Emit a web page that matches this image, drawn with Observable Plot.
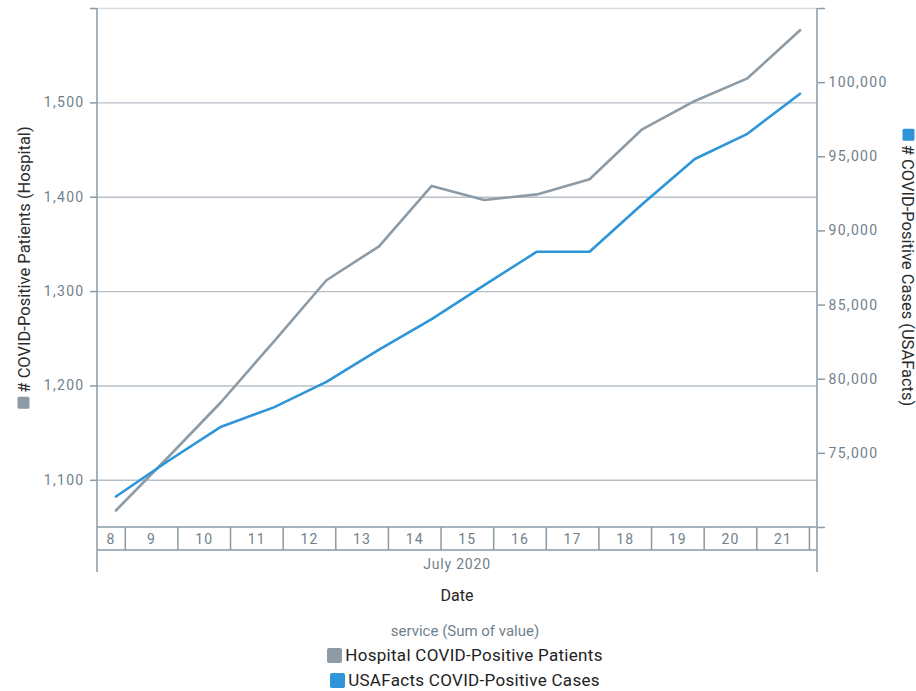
<!DOCTYPE html>
<html>
<head>
<meta charset="utf-8">
<script src="https://cdn.jsdelivr.net/npm/d3@7"></script>
<script src="https://cdn.jsdelivr.net/npm/@observablehq/plot@0.6"></script>
<style>
  body { margin: 0; background: #fff; font-family: Roboto, "Noto Sans", sans-serif; }
  #chart svg { display: block; overflow: visible; }
  #chart svg g[aria-label="y-axis tick label"] text { letter-spacing: 1.3px; }
  #legend { width: 930px; text-align: center; }
  .lg-title { font-size: 15px; line-height: 18px; height: 19px; color: #6f7f8c; margin-top: 10px; }
  .lg-row { font-size: 17px; letter-spacing: 0.3px; line-height: 25px; height: 25px; color: #222; }
  .lg-row:first-of-type { margin-top: 2px; }
  .sw { display: inline-block; width: 15px; height: 15px; border-radius: 2px; vertical-align: -2px; margin-right: 3px; }
</style>
</head>
<body>
<div id="chart"></div>
<div id="legend"></div>
<script>
// ---- data ----
const dates = ["2020-07-08","2020-07-09","2020-07-10","2020-07-11","2020-07-12","2020-07-13","2020-07-14",
               "2020-07-15","2020-07-16","2020-07-17","2020-07-18","2020-07-19","2020-07-20","2020-07-21"];
const hospital = [1068, 1125, 1183, 1247, 1312, 1348, 1412, 1397, 1403, 1419, 1472, 1502, 1526, 1577];
const usafacts = [72090, 74500, 76800, 78100, 79820, 82000, 84050, 86350, 88600, 88600, 91800, 94850, 96550, 99250];
const seriesNames = ["Hospital COVID-Positive Patients", "USAFacts COVID-Positive Cases"];
const seriesColors = ["#8d9ba6", "#2e95d8"];
const leftTicks = [1100, 1200, 1300, 1400, 1500];
const rightTicks = [75000, 80000, 85000, 90000, 95000, 100000];
const leftDomain = [1050, 1600];
const rightDomain = [70000, 105000];
const leftTitle = "# COVID-Positive Patients (Hospital)";
const rightTitle = "# COVID-Positive Cases (USAFacts)";
const monthLabel = "July 2020";
const xTitle = "Date";
const legendTitle = "service (Sum of value)";

// ---- helpers ----
const W = 916, H = 612;
const mTop = 8, mBottom = 85, mLeft = 97, mRight = 99;
const HOUR = 3600 * 1000, DAY = 24 * HOUR;
const toLeft = d3.scaleLinear(rightDomain, leftDomain);
const fmt = d3.format(",");
const axisColor = "#8a9aa6";
const labelColor = "#717f8b";
const pointOffset = 19.5 * HOUR;

const rows = [];
dates.forEach((d, i) => {
  const t = new Date(new Date(d + "T00:00:00Z").getTime() + pointOffset);
  rows.push({x: t, y: hospital[i], s: seriesNames[0]});
});
dates.forEach((d, i) => {
  const t = new Date(new Date(d + "T00:00:00Z").getTime() + pointOffset);
  rows.push({x: t, y: toLeft(usafacts[i]), s: seriesNames[1]});
});

const firstMidnight = new Date(dates[0] + "T00:00:00Z").getTime();
const lastMidnight = new Date(dates[dates.length - 1] + "T00:00:00Z").getTime();
const xDomain = [new Date(firstMidnight + 11.1 * HOUR), new Date(lastMidnight + DAY + 3.45 * HOUR)];

const plot = Plot.plot({
  width: W, height: H,
  marginTop: mTop, marginBottom: mBottom, marginLeft: mLeft, marginRight: mRight,
  style: {fontFamily: "Roboto, 'Noto Sans', sans-serif", background: "#fff", overflow: "visible"},
  x: {type: "utc", domain: xDomain, axis: null},
  y: {domain: leftDomain, axis: null},
  color: {domain: seriesNames, range: seriesColors},
  marks: [
    Plot.ruleY(leftTicks, {stroke: "#b7c0c8", strokeWidth: 1.4}),
    Plot.ruleY([leftDomain[1]], {stroke: "#d6dce1", strokeWidth: 1.4}),
    Plot.axisY([...leftTicks, leftDomain[1]], {
      anchor: "left", tickSize: 7, tickPadding: 6, label: null,
      tickFormat: d => d === leftDomain[1] ? "" : fmt(d),
      stroke: axisColor, strokeWidth: 1.5, fill: labelColor, fontSize: 14
    }),
    Plot.axisY([...rightTicks, ...rightDomain].map(toLeft), {
      anchor: "right", tickSize: 7, tickPadding: 4, label: null,
      tickFormat: d => { const v = Math.round(toLeft.invert(d)); return rightTicks.includes(v) ? fmt(v) : ""; },
      stroke: axisColor, strokeWidth: 1.5, fill: labelColor, fontSize: 14
    }),
    Plot.line(rows, {x: "x", y: "y", z: "s", stroke: "s", strokeWidth: 2.6, curve: "linear"})
  ]
});

document.getElementById("chart").appendChild(plot);

// ---- hierarchical date axis & decorations ----
const xs = plot.scale("x");
const svg = d3.select(plot);
const x0 = mLeft, x1 = W - mRight;
const yTop = mTop, yBand0 = H - mBottom, yBand1 = yBand0 + 23, yEnd = yBand0 + 45;
const g = svg.append("g").attr("stroke", axisColor).attr("stroke-width", 1.5).attr("fill", "none");

g.append("line").attr("x1", x0).attr("x2", x1).attr("y1", yBand0).attr("y2", yBand0);
g.append("line").attr("x1", x0).attr("x2", x1).attr("y1", yBand1).attr("y2", yBand1);
const dayStarts = dates.map(d => new Date(d + "T00:00:00Z").getTime());
dayStarts.forEach((t) => {
  const a = xs.apply(new Date(t)), b = xs.apply(new Date(t + DAY));
  if (b > x0 && b < x1) {
    g.append("line").attr("x1", b).attr("x2", b).attr("y1", yBand0).attr("y2", yBand1);
  }
  const ca = Math.max(a, x0), cb = Math.min(b, x1);
  if (cb - ca > 16) {
    svg.append("text")
      .attr("x", (ca + cb) / 2).attr("y", (yBand0 + yBand1) / 2).attr("dy", "0.36em")
      .attr("text-anchor", "middle").attr("fill", labelColor)
      .style("font-size", "14px").style("letter-spacing", "1.2px")
      .text(String(new Date(t).getUTCDate()));
  }
});
g.append("line").attr("x1", x0).attr("x2", x0).attr("y1", yTop).attr("y2", yEnd);
g.append("line").attr("x1", x1).attr("x2", x1).attr("y1", yTop).attr("y2", yEnd);

svg.append("text")
  .attr("x", (x0 + x1) / 2).attr("y", yBand1 + 14).attr("dy", "0.36em")
  .attr("text-anchor", "middle").attr("fill", labelColor)
  .style("font-size", "14px").style("letter-spacing", "0.8px")
  .text(monthLabel);

svg.append("text")
  .attr("x", (x0 + x1) / 2).attr("y", yBand1 + 45).attr("dy", "0.36em")
  .attr("text-anchor", "middle").attr("fill", "#252525")
  .style("font-size", "16px")
  .text(xTitle);

// rotated axis titles with colour squares
const measureCtx = document.createElement("canvas").getContext("2d");
function textWidth(text, font) {
  measureCtx.font = font;
  const w = measureCtx.measureText(text).width;
  return w > 0 ? w : text.length * 8;
}
function axisTitle(cx, cy, angle, text, color) {
  const fontSize = 16.5;
  const len = textWidth(text, `${fontSize}px Roboto`);
  const total = 12 + 4 + len;
  const grp = svg.append("g").attr("transform", `translate(${cx},${cy}) rotate(${angle})`);
  grp.append("rect").attr("width", 12).attr("height", 12).attr("rx", 1.5).attr("fill", color)
    .attr("x", -total / 2).attr("y", -6.5);
  grp.append("text").attr("fill", "#2b2b2b").attr("dy", "0.36em")
    .attr("text-anchor", "end").attr("x", total / 2)
    .style("font-size", fontSize + "px").style("font-family", "Roboto").text(text);
}
const cy = (yTop + yBand0) / 2;
axisTitle(24, cy, -90, leftTitle, seriesColors[0]);
axisTitle(908, cy, 90, rightTitle, seriesColors[1]);

// ---- legend ----
const legend = d3.select("#legend");
legend.append("div").attr("class", "lg-title").text(legendTitle);
seriesNames.forEach((name, i) => {
  const row = legend.append("div").attr("class", "lg-row");
  if (i === 0) row.style("margin-top", "2px");
  row.append("span").attr("class", "sw").style("background", seriesColors[i]);
  row.append("span").text(name);
});
</script>
</body>
</html>
